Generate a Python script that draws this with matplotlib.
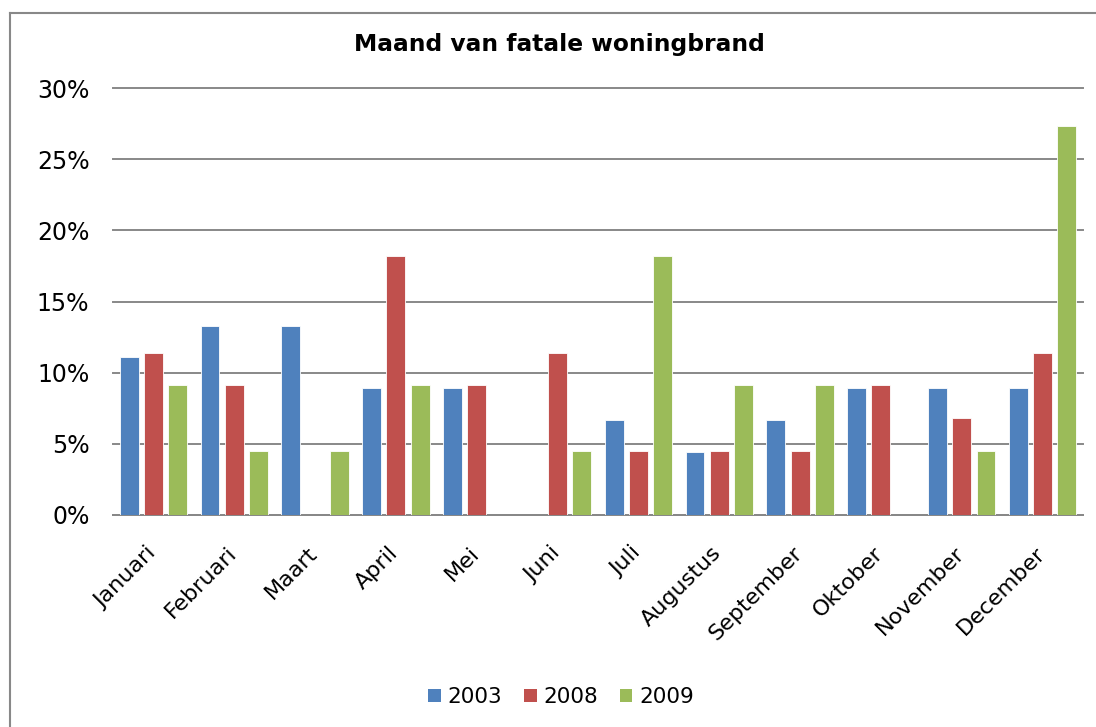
import matplotlib
matplotlib.use("Agg")
import matplotlib.pyplot as plt
from matplotlib.lines import Line2D
from matplotlib.patches import Patch
from matplotlib.transforms import ScaledTranslation
import numpy as np

months = ["Januari", "Februari", "Maart", "April", "Mei", "Juni", "Juli",
          "Augustus", "September", "Oktober", "November", "December"]
s2003 = [11.1, 13.3, 13.3, 8.9, 8.9, 0.0, 6.7, 4.4, 6.7, 8.9, 8.9, 8.9]
s2008 = [11.4, 9.1, 0.0, 18.2, 9.1, 11.4, 4.5, 4.5, 4.5, 9.1, 6.8, 11.4]
s2009 = [9.1, 4.5, 4.5, 9.1, 0.0, 4.5, 18.2, 9.1, 9.1, 0.0, 4.5, 27.3]
series = [("2003", s2003, "#4F81BD"), ("2008", s2008, "#C0504D"), ("2009", s2009, "#9BBB59")]
yticks = [0, 5, 10, 15, 20, 25, 30]

W, H = 1096, 727
fig = plt.figure(figsize=(W / 100, H / 100), dpi=100)
ax = fig.add_axes([113 / W, 1 - 515 / H, (1083 - 113) / W, (515 - 88) / H])

x = np.arange(len(months))
step = 0.30
bw = 0.235
for i, (name, vals, col) in enumerate(series):
    ax.bar(x + (i - 1) * step, vals, width=bw, color=col, edgecolor="#ffffff",
           linewidth=0.6, label=name, zorder=3)

ax.set_xlim(-0.5, len(months) - 0.5)
ax.set_ylim(0, 30)
ax.set_yticks(yticks)
ax.set_yticklabels([f"{t}%" for t in yticks], fontsize=17)
ax.yaxis.grid(True, color="#888888", linewidth=1.4, zorder=0)
for gl in ax.get_ygridlines():
    gl.set_clip_on(False)
ax.set_axisbelow(True)
for s in ["top", "right", "left"]:
    ax.spines[s].set_visible(False)
ax.spines["bottom"].set_color("#888888")
ax.spines["bottom"].set_linewidth(1.4)
ax.tick_params(axis="y", length=0, pad=17)
ax.tick_params(axis="x", length=0, pad=20)
ax.set_xticks(x)
ax.set_xticklabels(months, rotation=45, ha="right", rotation_mode="anchor", fontsize=16)
for lbl in ax.get_xticklabels():
    lbl.set_transform(lbl.get_transform() + ScaledTranslation(-0.08, 0, fig.dpi_scale_trans))

fig.text(559 / W, 1 - 45 / H, "Maand van fatale woningbrand", ha="center", va="center",
         fontsize=16.8, fontweight="bold")

handles = [Patch(facecolor=c, edgecolor="none") for _, _, c in series]
fig.legend(handles, [n for n, _, _ in series], loc="center", bbox_to_anchor=(561 / W, 1 - 697 / H),
           ncol=3, frameon=False, fontsize=15.5, handlelength=0.6, handleheight=0.6,
           handletextpad=0.3, columnspacing=1.0)

# chart border
fig.add_artist(Line2D([9.5 / W, 9.5 / W], [1 - 13 / H, 0], transform=fig.transFigure,
                      color="#888888", linewidth=1.5))
fig.add_artist(Line2D([9.5 / W, 1], [1 - 13 / H, 1 - 13 / H], transform=fig.transFigure,
                      color="#888888", linewidth=1.5))

fig.savefig("out.png", dpi=100)
